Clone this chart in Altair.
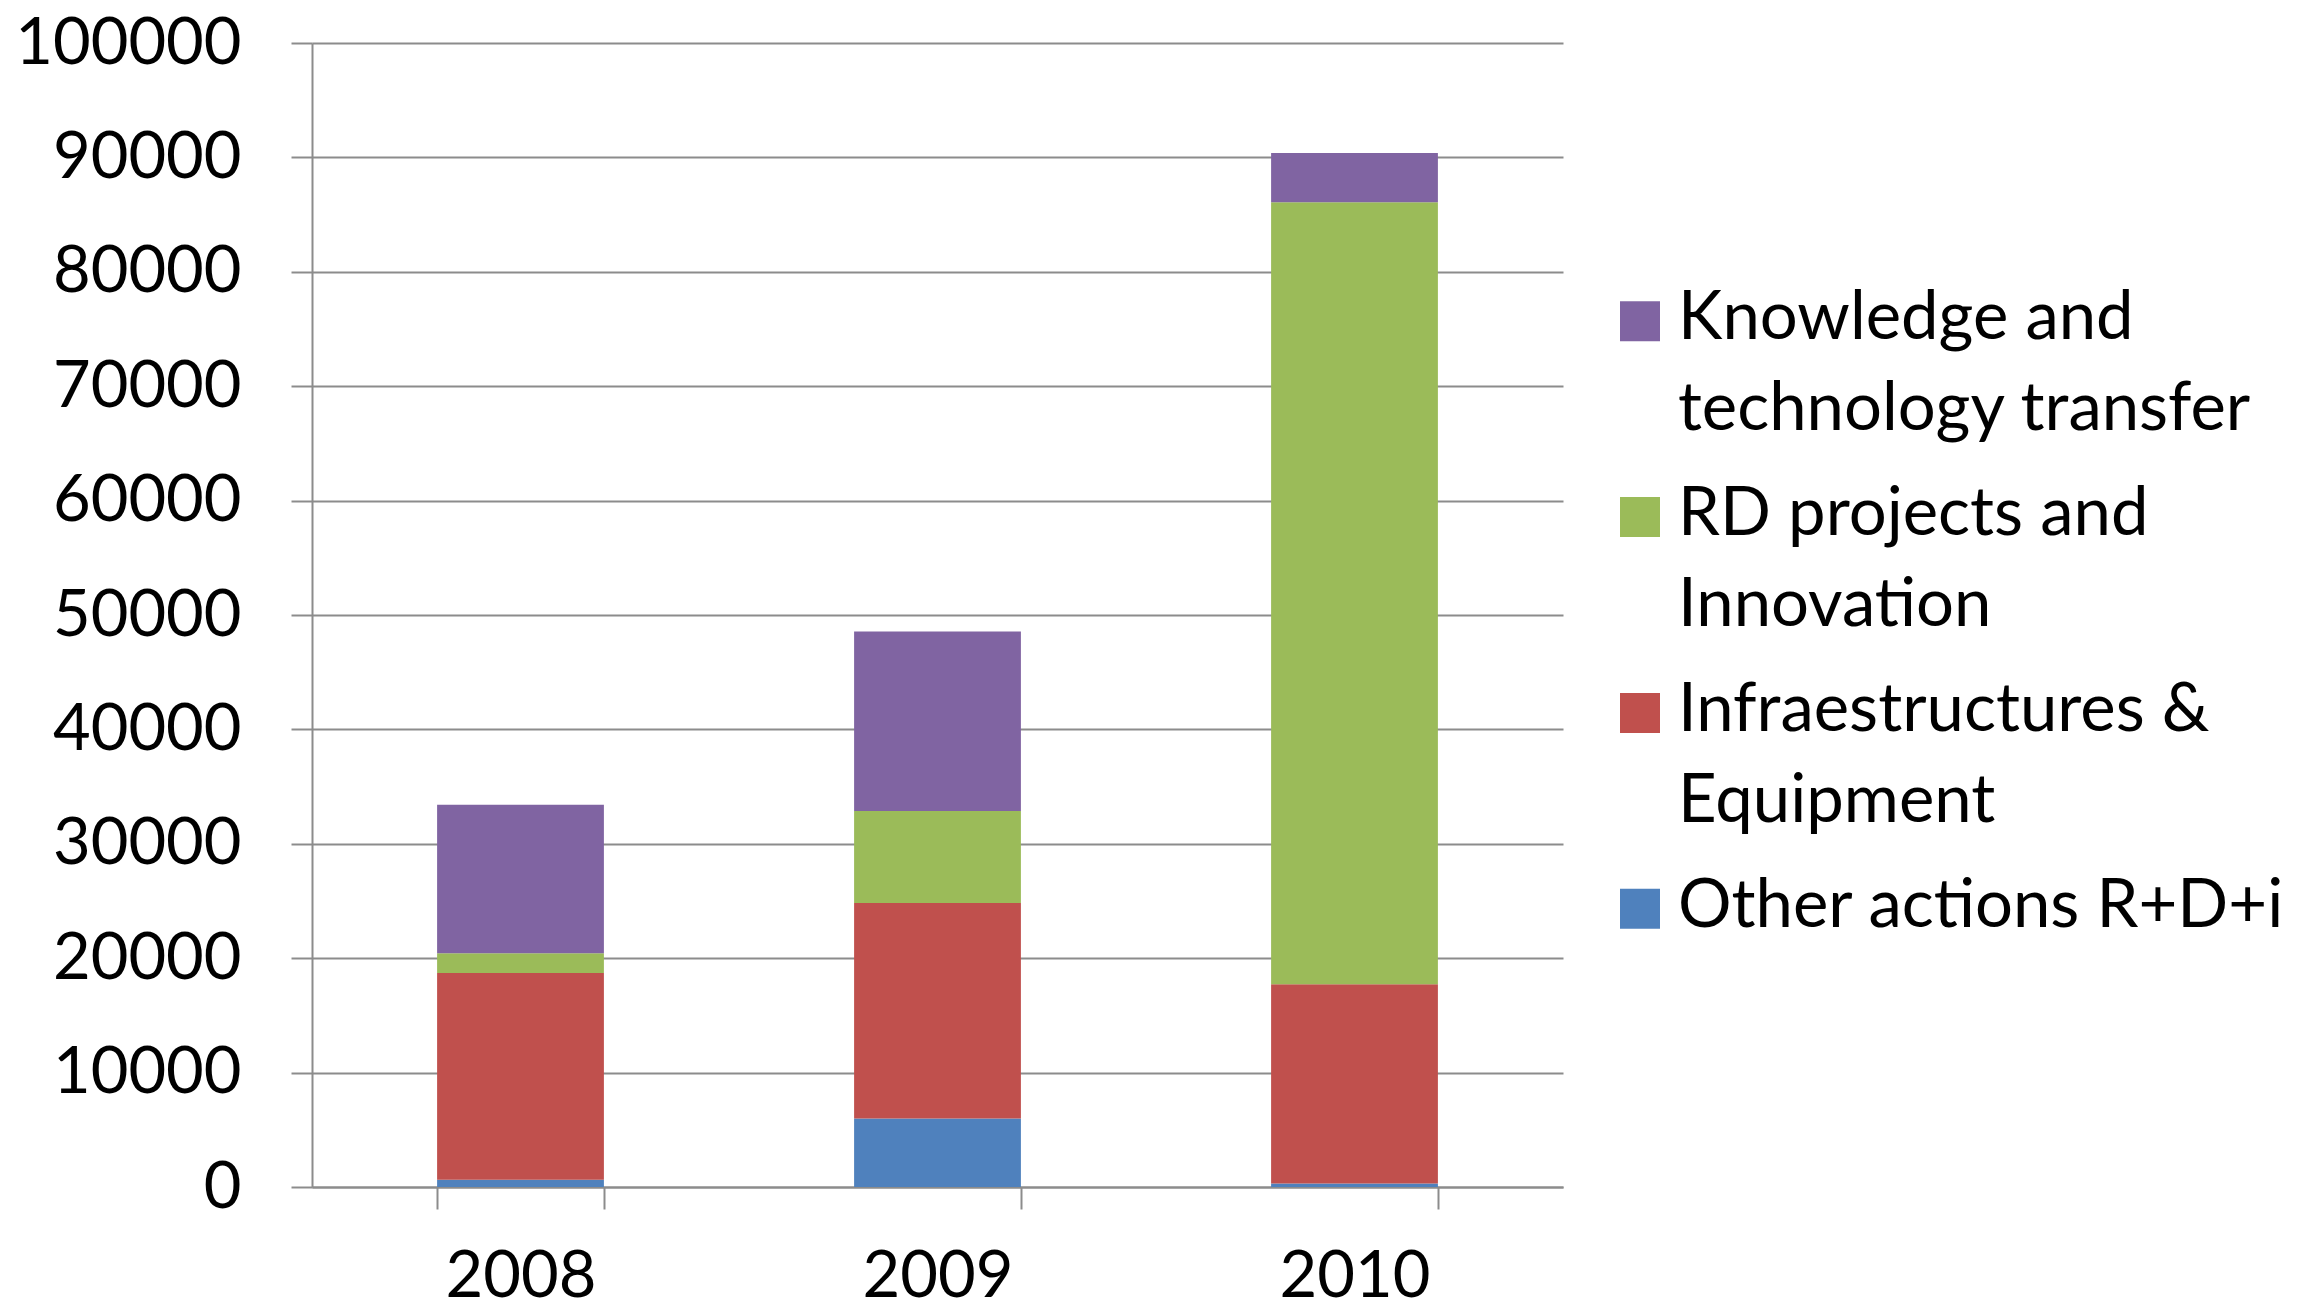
import altair as alt
import pandas as pd

years = ["2008", "2009", "2010"]
categories = [
    "Other actions R+D+i",
    "Infraestructures & Equipment",
    "RD projects and Innovation",
    "Knowledge and technology transfer",
]
other = [640, 5980, 300]
infra = [18060, 18840, 17420]
rd = [1740, 8050, 68350]
knowledge = [12980, 15690, 4320]
colors = ["#4F81BD", "#C0504D", "#9BBB59", "#8064A2"]

legend_cats = [
    "Knowledge and technology transfer",
    "RD projects and Innovation",
    "Infraestructures & Equipment",
    "Other actions R+D+i",
]
legend_labels = [
    "Knowledge and\ntechnology transfer",
    "RD projects and\nInnovation",
    "Infraestructures &\nEquipment",
    "Other actions R+D+i",
]
y_ticks = [0, 10000, 20000, 30000, 40000, 50000, 60000, 70000, 80000, 90000, 100000]

series = [other, infra, rd, knowledge]
rows = []
for ci, (cat, vals) in enumerate(zip(categories, series)):
    for yr, v in zip(years, vals):
        rows.append({"Year": yr, "Category": cat, "Value": v, "Order": ci})
df = pd.DataFrame(rows)

FONT = "Lato"
GRID = "#8c8c8c"

color_scale = alt.Scale(domain=categories, range=colors)

main = alt.Chart(df).mark_bar().encode(
    x=alt.X(
        "Year:N",
        sort=years,
        scale=alt.Scale(paddingInner=0.6, paddingOuter=0.3),
        axis=alt.Axis(
            title=None, labelAngle=0, tickBand="extent", tickSize=22,
            tickColor=GRID, tickWidth=2, domainColor=GRID, domainWidth=2,
            labelPadding=36, labelFontSize=65, labelFont=FONT, labelColor="#000000",
            labelLimit=0,
        ),
    ),
    y=alt.Y(
        "Value:Q",
        stack="zero",
        scale=alt.Scale(domain=[0, 100000], nice=False),
        axis=alt.Axis(
            title=None, values=y_ticks, format="d", tickSize=21,
            tickColor=GRID, tickWidth=2, domainColor=GRID, domainWidth=2,
            gridColor=GRID, gridWidth=2, labelPadding=50,
            labelFontSize=65, labelFont=FONT, labelColor="#000000",
            labelLimit=0,
        ),
    ),
    color=alt.Color("Category:N", scale=color_scale, legend=None),
    order=alt.Order("Order:Q", sort="ascending"),
).properties(width=1251, height=1144)

leg_df = pd.DataFrame({"Category": legend_cats, "Label": legend_labels})
ly = alt.Y("Category:N", sort=legend_cats,
           scale=alt.Scale(type="band", paddingInner=0, paddingOuter=0.92), axis=None)

sq = alt.Chart(leg_df).mark_square(size=1600, opacity=1).encode(
    x=alt.value(22),
    y=ly,
    color=alt.Color("Category:N", scale=color_scale, legend=None),
)
txt = alt.Chart(leg_df).mark_text(
    align="left", baseline="top", lineBreak="\n", fontSize=67,
    font=FONT, lineHeight=91, dy=-35, color="#000000",
).encode(
    x=alt.value(60),
    y=ly,
    text="Label:N",
)
legend = alt.layer(sq, txt).properties(width=650, height=1144)

chart = alt.hconcat(main, legend, spacing=55).configure_view(stroke=None).properties(
    padding={"top": 3, "bottom": 0, "left": 6, "right": 0}
)

chart.save("out.html", embed_options={"renderer": "svg", "actions": False})
